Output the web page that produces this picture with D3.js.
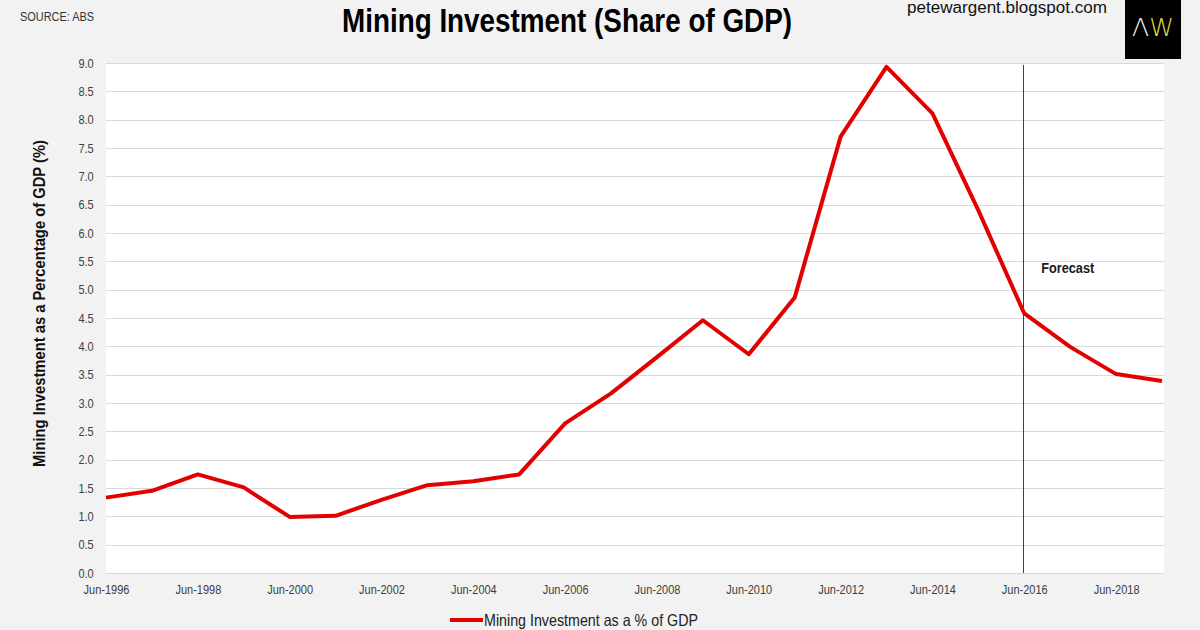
<!DOCTYPE html>
<html lang="en">
<head>
  <meta charset="UTF-8">
  <title>Mining Investment (Share of GDP)</title>
  <script src="https://d3js.org/d3.v7.min.js"></script>
  <style>
    body { margin: 0; background: #f2f2f2; }
    svg { display: block; font-family: "Liberation Sans Narrow", "Arial Narrow", "Liberation Sans", sans-serif; }
    .axis text { font-size: 12.5px; fill: #404040; }
    .axis path, .axis line { display: none; }
  </style>
</head>
<body>
  <svg width="1200" height="630"></svg>

  <script>
    // Financial years, June of each year
    const periods = ["Jun-1996", "Jun-1997", "Jun-1998", "Jun-1999", "Jun-2000", "Jun-2001",
                     "Jun-2002", "Jun-2003", "Jun-2004", "Jun-2005", "Jun-2006", "Jun-2007",
                     "Jun-2008", "Jun-2009", "Jun-2010", "Jun-2011", "Jun-2012", "Jun-2013",
                     "Jun-2014", "Jun-2015", "Jun-2016", "Jun-2017", "Jun-2018", "Jun-2019"];
    const miningShare = [1.33, 1.45, 1.74, 1.51, 0.99, 1.01, 1.29, 1.55, 1.62, 1.74, 2.64, 3.17,
                         3.81, 4.46, 3.86, 4.86, 7.70, 8.93, 8.11, 6.40, 4.58, 3.99, 3.51, 3.39];
    const xTickLabels = ["Jun-1996", "Jun-1998", "Jun-2000", "Jun-2002", "Jun-2004", "Jun-2006",
                         "Jun-2008", "Jun-2010", "Jun-2012", "Jun-2014", "Jun-2016", "Jun-2018"];
    const yTicks = [0, 0.5, 1, 1.5, 2, 2.5, 3, 3.5, 4, 4.5, 5, 5.5, 6, 6.5, 7, 7.5, 8, 8.5, 9];
    const forecastStart = "Jun-2016";

    const svg = d3.select("svg"),
          margin = {top: 63, right: 36, bottom: 57, left: 106},
          width = +svg.attr("width") - margin.left - margin.right,
          height = +svg.attr("height") - margin.top - margin.bottom;

    const narrow = 0.88; // squeeze a regular sans to look like Arial Narrow

    const g = svg.append("g").attr("transform", `translate(${margin.left},${margin.top})`);

    const x = d3.scalePoint().domain(periods).range([0, width - 2]);
    const y = d3.scaleLinear().domain([0, 9]).range([height, 0]);

    // plot area
    g.append("rect")
      .attr("width", width)
      .attr("height", height)
      .attr("fill", "#fff");

    // gridlines
    g.append("g")
      .selectAll("line")
      .data(yTicks)
      .join("line")
        .attr("x1", 0)
        .attr("x2", width)
        .attr("y1", d => Math.round(y(d)) + 0.5)
        .attr("y2", d => Math.round(y(d)) + 0.5)
        .attr("stroke", "#d9d9d9")
        .attr("stroke-width", 1.2);

    g.append("g")
      .attr("class", "axis")
      .call(d3.axisLeft(y).tickValues(yTicks).tickFormat(d3.format(".1f")).tickSize(0).tickPadding(14))
      .selectAll("text")
        .attr("transform", `scale(${narrow},1)`);

    g.append("g")
      .attr("class", "axis")
      .attr("transform", `translate(0,${height})`)
      .call(d3.axisBottom(x).tickValues(xTickLabels).tickSize(0).tickPadding(12))
      .selectAll("text")
        .attr("transform", `scale(${narrow},1)`);

    // forecast divider
    g.append("line")
      .attr("x1", Math.round(x(forecastStart)) - 0.5)
      .attr("x2", Math.round(x(forecastStart)) - 0.5)
      .attr("y1", 2)
      .attr("y2", height)
      .attr("stroke", "#404040")
      .attr("stroke-width", 1);

    g.append("text")
      .attr("x", x(forecastStart) + 17)
      .attr("y", y(5.3))
      .attr("font-size", 14)
      .attr("font-weight", "bold")
      .attr("fill", "#1a1a1a")
      .attr("textLength", 53)
      .attr("lengthAdjust", "spacingAndGlyphs")
      .text("Forecast");

    const line = d3.line()
      .x((d, i) => x(periods[i]))
      .y(d => y(d));

    g.append("path")
      .datum(miningShare)
      .attr("d", line)
      .attr("fill", "none")
      .attr("stroke", "#e30000")
      .attr("stroke-width", 4)
      .attr("stroke-linejoin", "round");

    // titles
    svg.append("text")
      .attr("x", 342)
      .attr("y", 32)
      .attr("font-size", 33)
      .attr("font-weight", "bold")
      .attr("fill", "#000")
      .attr("textLength", 450)
      .attr("lengthAdjust", "spacingAndGlyphs")
      .text("Mining Investment (Share of GDP)");

    svg.append("text")
      .attr("x", 20)
      .attr("y", 21)
      .attr("font-size", 12.5)
      .attr("fill", "#333")
      .attr("textLength", 74)
      .attr("lengthAdjust", "spacingAndGlyphs")
      .text("SOURCE: ABS");

    svg.append("text")
      .attr("x", 907)
      .attr("y", 13)
      .attr("font-family", "Liberation Sans, Arial, sans-serif")
      .attr("font-size", 16)
      .attr("fill", "#111")
      .attr("textLength", 200)
      .attr("lengthAdjust", "spacingAndGlyphs")
      .text("petewargent.blogspot.com");

    svg.append("text")
      .attr("transform", `translate(45,467) rotate(-90)`)
      .attr("font-size", 16.5)
      .attr("font-weight", "bold")
      .attr("fill", "#111")
      .attr("textLength", 327)
      .attr("lengthAdjust", "spacingAndGlyphs")
      .text("Mining Investment as a Percentage of GDP (%)");

    // logo box
    const logo = svg.append("g").attr("transform", "translate(1125,0)");
    logo.append("rect").attr("width", 56).attr("height", 59).attr("fill", "#000");
    const logoText = logo.append("text")
      .attr("x", 28)
      .attr("y", 36)
      .attr("text-anchor", "middle")
      .attr("font-family", "DejaVu Sans, sans-serif")
      .attr("font-weight", 200)
      .attr("font-size", 25);
    logoText.append("tspan").attr("fill", "#f2f2f2").text("Λ");
    logoText.append("tspan").attr("fill", "#e2dc3c").text("W");

    // legend
    const legend = svg.append("g").attr("transform", "translate(450,620)");
    legend.append("line")
      .attr("x1", 0).attr("x2", 33)
      .attr("stroke", "#e30000")
      .attr("stroke-width", 4);
    legend.append("text")
      .attr("x", 34)
      .attr("y", 6)
      .attr("font-size", 16.5)
      .attr("fill", "#222")
      .attr("textLength", 214)
      .attr("lengthAdjust", "spacingAndGlyphs")
      .text("Mining Investment as a % of GDP");
  </script>
</body>
</html>
